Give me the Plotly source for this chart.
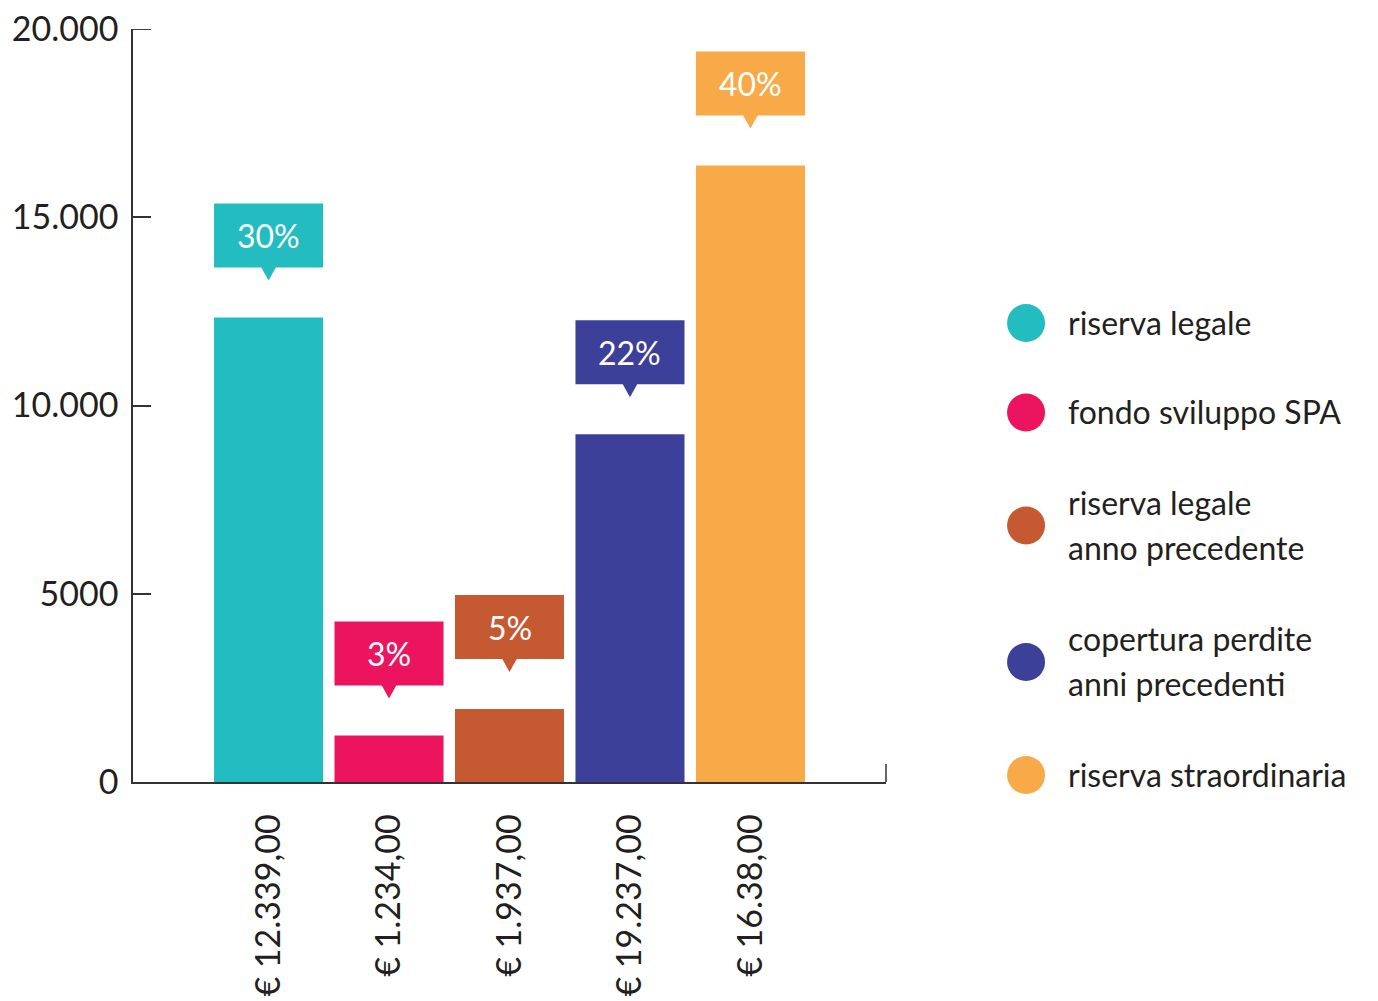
import plotly.graph_objects as go

# ---- data ----
categories = ["riserva legale", "fondo sviluppo SPA", "riserva legale<br>anno precedente",
              "copertura perdite<br>anni precedenti", "riserva straordinaria"]
values = [12339, 1234, 1937, 9237, 16380]
percent_labels = ["30%", "3%", "5%", "22%", "40%"]
tick_labels = ["€ 12.339,00", "€ 1.234,00", "€ 1.937,00", "€ 19.237,00", "€ 16.38,00"]
colors = ["#23BCC1", "#ED145F", "#C55A32", "#3D4098", "#F9AA48"]
y_tickvals = [0, 5000, 10000, 15000, 20000]
y_ticktext = ["0", "5000", "10.000", "15.000", "20.000"]

FONT = "Lato"
TEXT = "#231f20"
LINE = "#333333"

x_pos = list(range(len(values)))
BAR_W = 0.905

fig = go.Figure()
fig.add_trace(go.Bar(x=x_pos, y=values, marker=dict(color=colors, line=dict(width=0)),
                     width=BAR_W, showlegend=False, hoverinfo="skip"))

shapes = []
annotations = []
# callout boxes
for i, v in enumerate(values):
    shapes.append(dict(type="rect", xref="x", yref="y", x0=i - BAR_W / 2, x1=i + BAR_W / 2,
                       ysizemode="pixel", yanchor=v, y0=50, y1=114,
                       fillcolor=colors[i], line=dict(width=0), layer="above"))
    shapes.append(dict(type="path", xref="x", yref="y", xsizemode="pixel", xanchor=i,
                       ysizemode="pixel", yanchor=v, path="M -7.5,50.5 L 7.5,50.5 L 0,37 Z",
                       fillcolor=colors[i], line=dict(width=0), layer="above"))
    annotations.append(dict(x=i, y=v, xref="x", yref="y", yshift=82, showarrow=False,
                            text=percent_labels[i], font=dict(family=FONT, size=32, color="white"),
                            yanchor="middle", xanchor="center"))

# legend (manual, large circular markers)
PLOT_H = 753.0
ly_px = 323.0 - 29.0  # pixel offset from plot top of first item
prev_lines = None
for i, name in enumerate(categories):
    lines = name.split("<br>")
    n = len(lines)
    if prev_lines is not None:
        ly_px += 89.5 + 23.5 * (prev_lines - 1) + 23.5 * (n - 1)
    prev_lines = n
    yp = 1 - ly_px / PLOT_H
    shapes.append(dict(type="circle", xref="paper", yref="paper", xsizemode="pixel", ysizemode="pixel",
                       xanchor=1.186, yanchor=yp, x0=-19, x1=19, y0=-19, y1=19,
                       fillcolor=colors[i], line=dict(width=0)))
    for k, ln in enumerate(lines):
        shift = (n - 1) / 2 * 45 - k * 45
        annotations.append(dict(x=1.239, y=yp, xref="paper", yref="paper", xanchor="left",
                                yanchor="middle", yshift=shift + 1, showarrow=False, text=ln,
                                font=dict(family=FONT, size=32, color=TEXT)))

# small tick at right end of x axis
shapes.append(dict(type="line", xref="paper", yref="paper", x0=1, x1=1, ysizemode="pixel",
                   yanchor=0, y0=0, y1=18, line=dict(color=LINE, width=1.5)))
# top y tick (plotly drops the inside tick at the range edge)
shapes.append(dict(type="line", xref="paper", yref="y", xsizemode="pixel", xanchor=0,
                   x0=0, x1=18, y0=y_tickvals[-1], y1=y_tickvals[-1],
                   line=dict(color=LINE, width=1.5)))

fig.update_layout(
    width=1378, height=1001,
    margin=dict(l=125, r=500, t=21, b=227, pad=0, autoexpand=False),
    paper_bgcolor="white", plot_bgcolor="white",
    shapes=shapes, annotations=annotations,
    font=dict(family=FONT, color=TEXT),
    xaxis=dict(range=[-1.125, 5.125], tickvals=x_pos, ticktext=tick_labels, tickangle=-90,
               showline=True, linecolor=LINE, linewidth=1.5, ticks="", showgrid=False,
               zeroline=False, tickfont=dict(family=FONT, size=34, color=TEXT),
               ticklabelstandoff=17, fixedrange=True, automargin=False,
               ticklabeloverflow="allow"),
    yaxis=dict(range=[0, 20005], tickvals=y_tickvals, ticktext=y_ticktext, ticks="inside",
               ticklen=18, tickwidth=1.5, tickcolor=LINE, showline=True, linecolor=LINE,
               linewidth=1.5, showgrid=False, zeroline=False,
               tickfont=dict(family=FONT, size=34, color=TEXT), ticklabelstandoff=6,
               fixedrange=True, automargin=False, ticklabeloverflow="allow"),
)

fig.write_html("out.html")
